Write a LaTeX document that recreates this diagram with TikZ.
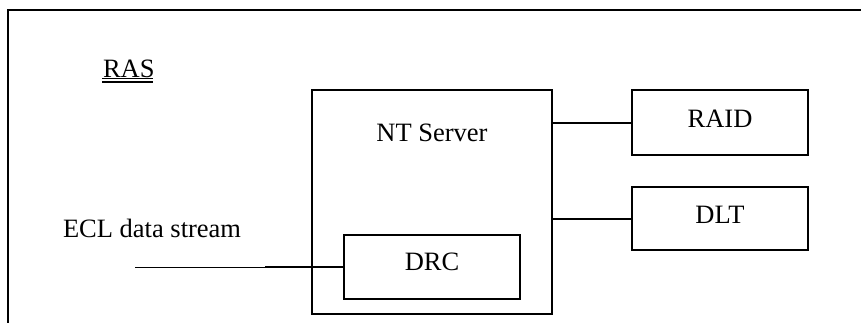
\documentclass[tikz,border=0pt]{standalone}
\usepackage{fontspec}
\setmainfont{Liberation Serif}
\begin{document}
\begin{tikzpicture}[x=0.5pt,y=-0.5pt,
  line width=1pt,
  txt/.style={inner sep=0pt, font=\fontsize{13.25}{16}\selectfont},
  unit/.style={draw, line width=1pt, inner sep=0pt},
  link/.style={line width=1pt},
  feed/.style={line width=0.5pt}]
\useasboundingbox (0,0) rectangle (861,322);

% outer frame (top and left edges)
\draw (8,330) -- (8,10) -- (870,10);

% title with double underline
\node[txt, anchor=base west] (ras) at (102,77) {RAS};
\draw[line width=0.6pt] (102,78.6) -- (153,78.6);
\draw[line width=1pt] (102,81.6) -- (153,81.6);

% server and its devices
\node[unit, minimum width=120pt, minimum height=112pt] (nt) at (432,202) {};
\node[txt, anchor=base] (ntlabel) at (432,141) {NT Server};
\node[unit, minimum width=88pt, minimum height=32pt] (drc) at (432,267) {};
\node[txt, anchor=base] (drclabel) at (432,270) {DRC};
\node[unit, minimum width=88pt, minimum height=32.5pt] (raid) at (720,122.5) {};
\node[txt, anchor=base] (raidlabel) at (720,127) {RAID};
\node[unit, minimum width=88pt, minimum height=31.5pt] (dlt) at (720,218.5) {};
\node[txt, anchor=base] (dltlabel) at (720,223) {DLT};

% connections
\draw[link] (raid.west) -- (raid.west -| nt.east);
\draw[link] (dlt.west) -- (dlt.west -| nt.east);

% incoming data stream
\node[txt, anchor=base west] (ecl) at (62,237) {ECL data stream};
\coordinate (feedstart) at (135,267);
\coordinate (feedjoin) at (265,267);
\draw[feed] (feedstart) -- (feedjoin);
\draw[link] (feedjoin) -- (drc.west);
\end{tikzpicture}
\end{document}
